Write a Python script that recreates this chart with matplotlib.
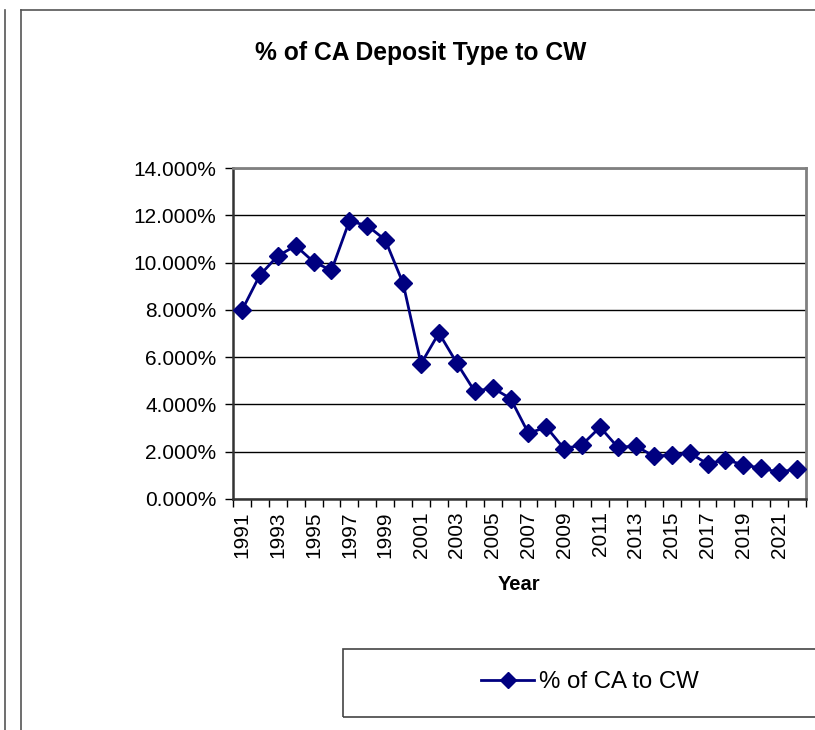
import matplotlib
matplotlib.use("Agg")
import matplotlib.pyplot as plt
from matplotlib.lines import Line2D
from matplotlib.patches import Rectangle
import numpy as np

plt.rcParams['font.family'] = ['Liberation Sans', 'DejaVu Sans']

years = list(range(1991, 2023))
pct_ca_to_cw = [7.98, 9.47, 10.28, 10.71, 10.03, 9.67, 11.76, 11.56, 10.96, 9.12,
                5.72, 7.02, 5.75, 4.55, 4.70, 4.25, 2.78, 3.04, 2.12, 2.30,
                3.04, 2.18, 2.24, 1.81, 1.86, 1.94, 1.49, 1.66, 1.45, 1.30,
                1.13, 1.28]
series_label = "% of CA to CW"
title = "% of CA Deposit Type to CW"
xlabel = "Year"
yticks = [0, 2, 4, 6, 8, 10, 12, 14]

W, H = 815, 730
fig = plt.figure(figsize=(W / 100, H / 100), dpi=100)

def fx(x): return x / W
def fy(y): return 1 - y / H

# outer frame lines
fig.add_artist(Line2D([fx(21), fx(21)], [fy(10), fy(730)], color='#555555', lw=1.2))
fig.add_artist(Line2D([fx(21), fx(815)], [fy(10), fy(10)], color='#555555', lw=1.2))
fig.add_artist(Line2D([fx(5), fx(5)], [fy(10), fy(730)], color='#555555', lw=1.2))

ax = fig.add_axes([fx(233), fy(499), fx(806) - fx(233), fy(168) - fy(499)])
x = np.arange(len(years))
ax.plot(x, pct_ca_to_cw, color='#000080', lw=2.0, marker='D', ms=9,
        markeredgecolor='#000080', markerfacecolor='#000080', clip_on=False, zorder=3)

ax.set_xlim(-0.5, len(years) - 0.5)
ax.set_ylim(0, 14)
ax.set_yticks(yticks)
ax.set_yticklabels([f"{v:.3f}%" for v in yticks], fontsize=15)
ax.yaxis.grid(True, color='black', lw=1.0)
ax.set_axisbelow(True)

ax.set_xticks(x[::2])
ax.set_xticklabels([str(y) for y in years[::2]], rotation=90, fontsize=15)
ax.set_xticks(np.arange(len(years) + 1) - 0.5, minor=True)
ax.tick_params(axis='x', which='major', length=0, pad=9)
ax.tick_params(axis='x', which='minor', length=6, width=1.0, direction='out', color='black')
ax.tick_params(axis='y', length=6, width=1.0, direction='out', pad=6)

for s in ['top', 'right']:
    ax.spines[s].set_color('#808080')
    ax.spines[s].set_linewidth(2.0)
ax.spines['left'].set_color('#333333')
ax.spines['left'].set_linewidth(1.8)
ax.spines['bottom'].set_color('#333333')
ax.spines['bottom'].set_linewidth(1.8)

fig.text(fx(421), fy(53), title, ha='center', va='center', fontsize=17.7, fontweight='bold')
fig.text(fx(519), fy(585), xlabel, ha='center', va='center', fontsize=14.5, fontweight='bold')

# legend box
fig.add_artist(Rectangle((fx(343), fy(717)), fx(900) - fx(343), fy(649) - fy(717),
                         transform=fig.transFigure, fill=False, edgecolor='#444444', lw=1.2))
handle = Line2D([], [], color='#000080', lw=2.0, marker='D', ms=8.5,
                markeredgecolor='#000080', markerfacecolor='#000080')
fig.legend([handle], [series_label], loc='center', bbox_to_anchor=(fx(590), fy(682)),
           frameon=False, fontsize=17.3, handlelength=2.2, handletextpad=0.2)

fig.savefig("out.png", dpi=100)
